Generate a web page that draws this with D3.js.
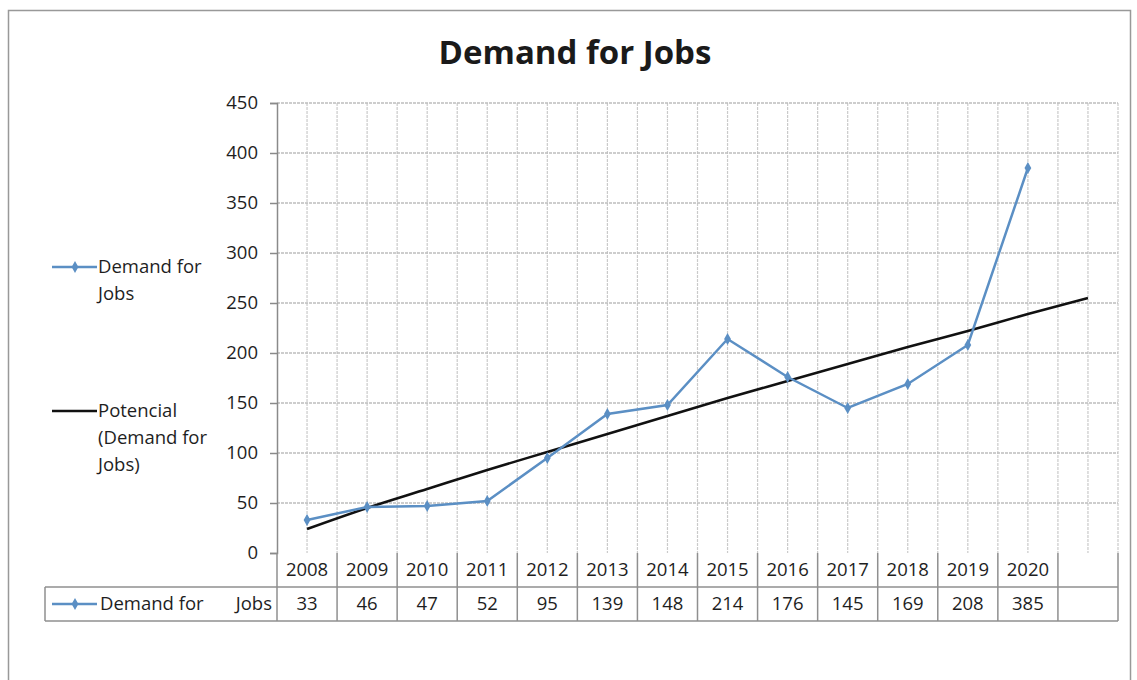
<!DOCTYPE html>
<html>
<head>
<meta charset="utf-8">
<script src="https://cdn.jsdelivr.net/npm/d3@7"></script>
<style>
  body { margin: 0; background: #fff; }
  svg { font-family: "Open Sans", sans-serif; }
</style>
</head>
<body>
<svg id="chart" width="1137" height="680"></svg>
<script>
// chart values
const years = ['2008', '2009', '2010', '2011', '2012', '2013', '2014', '2015', '2016', '2017', '2018', '2019', '2020'];
const demand = [33, 46, 47, 52, 95, 139, 148, 214, 176, 145, 169, 208, 385];
// power trendline, read at each column (the last one is the blank column)
const trendValues = [24, 45, 64, 83, 101, 119, 137, 155, 172, 189, 206, 222, 239, 255];
const yTicks = [0, 50, 100, 150, 200, 250, 300, 350, 400, 450];
const trendName = ['Potencial', '(Demand for', 'Jobs)'];

const svg = d3.select('#chart');
const blue = '#5b8fc4';
const textColor = '#1e1e1e';
const fontSize = '18.5px';

const margin = { top: 103, right: 19, bottom: 127, left: 277 };
const width = 1137, height = 680;
const innerW = width - margin.left - margin.right;
const innerH = height - margin.top - margin.bottom;

// outer frame
svg.append('rect')
    .attr('x', 8.5).attr('y', 10.5)
    .attr('width', 1122).attr('height', 700)
    .attr('fill', 'none').attr('stroke', '#999').attr('stroke-width', 1.5);

// title
svg.append('text')
    .attr('x', 575).attr('y', 64)
    .attr('text-anchor', 'middle')
    .attr('font-size', '33px').attr('font-weight', 'bold')
    .attr('fill', '#1a1a1a')
    .text('Demand for Jobs');

const cols = years.concat(['']);
const x = d3.scaleBand().domain(d3.range(cols.length)).range([0, innerW]);
const y = d3.scaleLinear().domain([0, 450]).range([innerH, 0]);

const g = svg.append('g').attr('transform', `translate(${margin.left},${margin.top})`);

// gridlines: vertical at column edges and centres
const vx = [];
d3.range(cols.length).forEach(i => { vx.push(x(i) + x.bandwidth() / 2); vx.push(x(i) + x.bandwidth()); });
g.append('g').selectAll('line').data(vx).join('line')
    .attr('x1', d => d).attr('x2', d => d)
    .attr('y1', 0).attr('y2', innerH)
    .attr('stroke', '#cacaca').attr('stroke-width', 1.2)
    .attr('stroke-dasharray', '3,1');

g.append('g').selectAll('line').data(yTicks.filter(d => d > 0)).join('line')
    .attr('x1', 0).attr('x2', innerW)
    .attr('y1', d => y(d)).attr('y2', d => y(d))
    .attr('stroke', '#bdbdbd').attr('stroke-width', 1.5)
    .attr('stroke-dasharray', '3,1');

// y axis
const yAxis = g.append('g')
    .call(d3.axisLeft(y).tickValues(yTicks).tickSize(7).tickPadding(12));
yAxis.select('.domain').attr('stroke', '#8a8a8a').attr('stroke-width', 1.5);
yAxis.selectAll('.tick line').attr('stroke', '#8a8a8a').attr('stroke-width', 1.5);
yAxis.selectAll('.tick text')
    .attr('font-size', fontSize).attr('fill', textColor)
    .attr('font-family', '"Open Sans", sans-serif');

// trendline
const cx = i => x(i) + x.bandwidth() / 2;
g.append('path')
    .datum(trendValues)
    .attr('d', d3.line().x((d, i) => cx(i)).y(d => y(d)).curve(d3.curveMonotoneX))
    .attr('fill', 'none').attr('stroke', '#111').attr('stroke-width', 2.5);

// demand series
g.append('path')
    .datum(demand)
    .attr('d', d3.line().x((d, i) => cx(i)).y(d => y(d)))
    .attr('fill', 'none').attr('stroke', blue).attr('stroke-width', 2.5);

const diamond = d3.symbol().type(d3.symbolDiamond).size(40);
g.append('g').selectAll('path').data(demand).join('path')
    .attr('transform', (d, i) => `translate(${cx(i)},${y(d)})`)
    .attr('d', diamond)
    .attr('fill', blue);

// data table
const rowH = 34;
const tableLeft = 45 - margin.left;
const tg = g.append('g').attr('transform', `translate(0,${innerH})`);
const border = '#8f8f8f';

// years row
tg.selectAll('.yr').data(cols).join('text')
    .attr('class', 'yr')
    .attr('x', (d, i) => cx(i)).attr('y', rowH / 2 + 6)
    .attr('text-anchor', 'middle').attr('font-size', fontSize).attr('fill', textColor)
    .text(d => d);

// values row
tg.selectAll('.val').data(demand).join('text')
    .attr('class', 'val')
    .attr('x', (d, i) => cx(i)).attr('y', rowH * 1.5 + 6)
    .attr('text-anchor', 'middle').attr('font-size', fontSize).attr('fill', textColor)
    .text(d => d);

// table lines
const hl = [
    { x1: tableLeft, x2: innerW, y: rowH },
    { x1: tableLeft, x2: innerW, y: rowH * 2 }
];
tg.selectAll('.hl').data(hl).join('line')
    .attr('x1', d => d.x1).attr('x2', d => d.x2)
    .attr('y1', d => d.y).attr('y2', d => d.y)
    .attr('stroke', border).attr('stroke-width', 1.5);

const vlines = d3.range(cols.length).map(i => x(i) + x.bandwidth());
tg.selectAll('.vl').data(vlines).join('line')
    .attr('x1', d => d).attr('x2', d => d)
    .attr('y1', 0).attr('y2', rowH * 2)
    .attr('stroke', border).attr('stroke-width', 1.5);
tg.append('line')
    .attr('x1', 0).attr('x2', 0).attr('y1', 0).attr('y2', rowH * 2)
    .attr('stroke', border).attr('stroke-width', 1.5);
tg.append('line')
    .attr('x1', tableLeft).attr('x2', tableLeft).attr('y1', rowH).attr('y2', rowH * 2)
    .attr('stroke', border).attr('stroke-width', 1.5);

// legend key inside table
const keyY = rowH * 1.5;
tg.append('line')
    .attr('x1', tableLeft + 7).attr('x2', tableLeft + 52)
    .attr('y1', keyY).attr('y2', keyY)
    .attr('stroke', blue).attr('stroke-width', 2.5);
tg.append('path')
    .attr('transform', `translate(${tableLeft + 30},${keyY})`)
    .attr('d', diamond).attr('fill', blue);
tg.append('text')
    .attr('x', tableLeft + 55).attr('y', keyY + 6)
    .attr('font-size', fontSize).attr('fill', textColor)
    .text('Demand for');
tg.append('text')
    .attr('x', -5).attr('y', keyY + 6)
    .attr('text-anchor', 'end')
    .attr('font-size', fontSize).attr('fill', textColor)
    .text('Jobs');

// side legend
const lg = svg.append('g');
const legendItems = [
    { lines: ['Demand for', 'Jobs'], y: 267, color: blue, marker: true },
    { lines: trendName, y: 411, color: '#111', marker: false }
];
legendItems.forEach(item => {
    lg.append('line')
        .attr('x1', 52).attr('x2', 97)
        .attr('y1', item.y).attr('y2', item.y)
        .attr('stroke', item.color).attr('stroke-width', 2.5);
    if (item.marker) {
        lg.append('path')
            .attr('transform', `translate(75,${item.y})`)
            .attr('d', diamond).attr('fill', item.color);
    }
    lg.append('text')
        .attr('font-size', fontSize).attr('fill', textColor)
        .selectAll('tspan').data(item.lines).join('tspan')
        .attr('x', 98)
        .attr('y', (d, i) => item.y + 6 + i * 27)
        .text(d => d);
});
</script>
</body>
</html>
